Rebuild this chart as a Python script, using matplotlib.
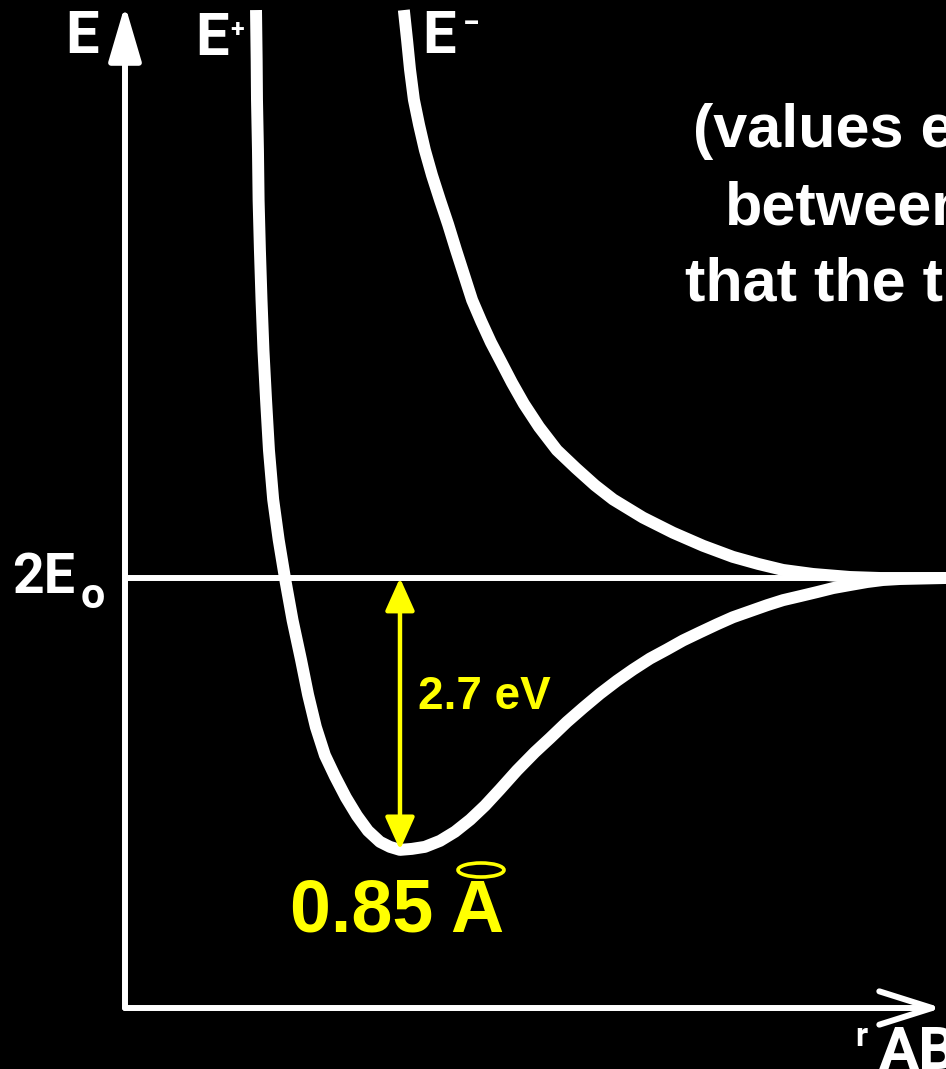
import matplotlib
matplotlib.use("Agg")
import matplotlib.pyplot as plt
from matplotlib.patches import Ellipse

# Potential energy curves of H2 (energy relative to 2E0, in eV) vs. distance r_AB (Angstrom)
r_bonding = [0.405, 0.407, 0.408, 0.411, 0.413, 0.417, 0.422, 0.428, 0.436, 0.445,
             0.458, 0.475, 0.495, 0.518, 0.544, 0.566, 0.590, 0.618, 0.649, 0.683,
             0.717, 0.751, 0.788, 0.819, 0.850, 0.887, 0.927, 0.974, 1.020, 1.067,
             1.113, 1.159, 1.212, 1.267, 1.314, 1.366, 1.416, 1.468, 1.521, 1.570,
             1.623, 1.675, 1.725, 1.777, 1.830, 1.879, 1.932, 1.985, 2.034, 2.087,
             2.139, 2.189, 2.241, 2.294, 2.343, 2.396, 2.538, 2.6]
e_bonding = [5.64, 5.14, 4.75, 4.25, 3.75, 3.26, 2.76, 2.26, 1.77, 1.27,
             0.78, 0.38, -0.01, -0.42, -0.81, -1.16, -1.48, -1.76, -1.97, -2.18,
             -2.36, -2.51, -2.62, -2.67, -2.70, -2.69, -2.67, -2.61, -2.52, -2.40,
             -2.26, -2.10, -1.91, -1.73, -1.59, -1.43, -1.29, -1.15, -1.02, -0.91,
             -0.80, -0.71, -0.62, -0.54, -0.46, -0.39, -0.33, -0.27, -0.22, -0.18,
             -0.14, -0.10, -0.07, -0.04, -0.02, -0.01, 0.0, 0.0]

r_antibonding = [0.862, 0.872, 0.881, 0.893, 0.909, 0.927, 0.949, 0.974, 0.999, 1.023,
                 1.048, 1.073, 1.101, 1.131, 1.162, 1.196, 1.233, 1.280, 1.335, 1.394,
                 1.453, 1.509, 1.601, 1.694, 1.787, 1.879, 1.957, 2.034, 2.127, 2.241,
                 2.334, 2.6]
e_antibonding = [5.64, 5.34, 5.05, 4.75, 4.50, 4.25, 4.00, 3.75, 3.51, 3.26,
                 3.01, 2.76, 2.55, 2.34, 2.15, 1.94, 1.73, 1.50, 1.27, 1.09,
                 0.92, 0.78, 0.60, 0.45, 0.32, 0.21, 0.14, 0.08, 0.04, 0.01,
                 0.0, 0.0]

r_eq = 0.85          # equilibrium distance
bond_energy = 2.7    # depth of the well
eq_label = "0.85 A"
depth_label = "2.7 eV"
note_lines = ["(values e", "between", "that the t"]

W, H = 946, 1069
PX_PER_A = 323.5     # horizontal scale, pixels per Angstrom
PX_PER_EV = 100.7    # vertical scale, pixels per eV
X0, Y_LEVEL = 125, 578

fig = plt.figure(figsize=(W / 100, H / 100), dpi=100, facecolor="black")
ax = fig.add_axes([0, 0, 1, 1])
ax.set_facecolor("black")
ax.set_xlim(-X0 / PX_PER_A, (W - X0) / PX_PER_A)
ax.set_ylim((Y_LEVEL - H) / PX_PER_EV, Y_LEVEL / PX_PER_EV)
ax.axis("off")


def fpos(x, y):
    # pixel position -> figure fraction
    return x / W, 1 - y / H


hand = ["Roboto", "DejaVu Sans"]
arial = ["Liberation Sans", "DejaVu Sans"]

# axes with arrows
e_axis = (Y_LEVEL - 1008) / PX_PER_EV
ax.annotate("", xy=(0, (Y_LEVEL - 5) / PX_PER_EV), xytext=(0, e_axis),
            arrowprops=dict(arrowstyle="-|>,head_length=1.7,head_width=0.5",
                            mutation_scale=20, lw=4.3, color="white",
                            shrinkA=0, shrinkB=0))
ax.annotate("", xy=((942 - X0) / PX_PER_A, e_axis), xytext=(0, e_axis),
            arrowprops=dict(arrowstyle="->,head_length=1.9,head_width=0.6",
                            mutation_scale=20, lw=4.3, color="white",
                            shrinkA=0, shrinkB=0))

# 2E0 level
ax.plot([0.01, 2.6], [0, 0], color="white", lw=4.3, solid_capstyle="butt")

# curves
for rs, es in [(r_bonding, e_bonding), (r_antibonding, e_antibonding)]:
    ax.plot(rs, es, color="white", lw=8.6, solid_joinstyle="round",
            solid_capstyle="butt")

# well depth arrow
ax.annotate("", xy=(r_eq, -bond_energy), xytext=(r_eq, 0),
            arrowprops=dict(arrowstyle="<|-|>,head_length=1.0,head_width=0.45",
                            mutation_scale=20, lw=3.2, color="#ffff00",
                            shrinkA=0, shrinkB=0))
fig.text(*fpos(418, 709), depth_label, color="#ffff00", fontsize=33,
         fontweight="bold", family=arial, ha="left", va="baseline")

# equilibrium distance
fig.text(*fpos(290, 932), eq_label, color="#ffff00", fontsize=53,
         fontweight="bold", family=arial, ha="left", va="baseline")
fig.patches.append(Ellipse(fpos(481, 870), 46 / W, 14 / H, fill=False,
                           edgecolor="#ffff00", lw=2.6, transform=fig.transFigure))

# hand lettered labels
fig.text(*fpos(65, 53), "E", color="white", fontsize=43, fontweight="bold",
         family=hand, va="baseline")
fig.text(*fpos(195, 55), "E", color="white", fontsize=43, fontweight="bold",
         family=hand, va="baseline")
fig.text(*fpos(230, 37), "+", color="white", fontsize=18, fontweight="bold",
         family=hand, va="baseline")
fig.text(*fpos(422, 53), "E", color="white", fontsize=43, fontweight="bold",
         family=hand, va="baseline")
fig.text(*fpos(463, 33), "\u2212", color="white", fontsize=22, fontweight="bold",
         family=hand, va="baseline")
fig.text(*fpos(12, 593), "2E", color="white", fontsize=40, fontweight="bold",
         family=hand, va="baseline")
fig.text(*fpos(81, 608), "o", color="white", fontsize=31, fontweight="bold",
         family=hand, va="baseline")
fig.text(*fpos(855, 1046), "r", color="white", fontsize=24, fontweight="bold",
         family=hand, va="baseline")
fig.text(*fpos(879, 1025), "AB", color="white", fontsize=43, fontweight="bold",
         family=hand, va="top")

# note text on the right, running off the edge
for line, (x, y) in zip(note_lines, [(693, 147), (725, 225), (685, 301)]):
    fig.text(*fpos(x, y), line, color="white", fontsize=44, fontweight="bold",
             family=arial, ha="left", va="baseline")

fig.savefig("out.png", dpi=100, facecolor="black")
